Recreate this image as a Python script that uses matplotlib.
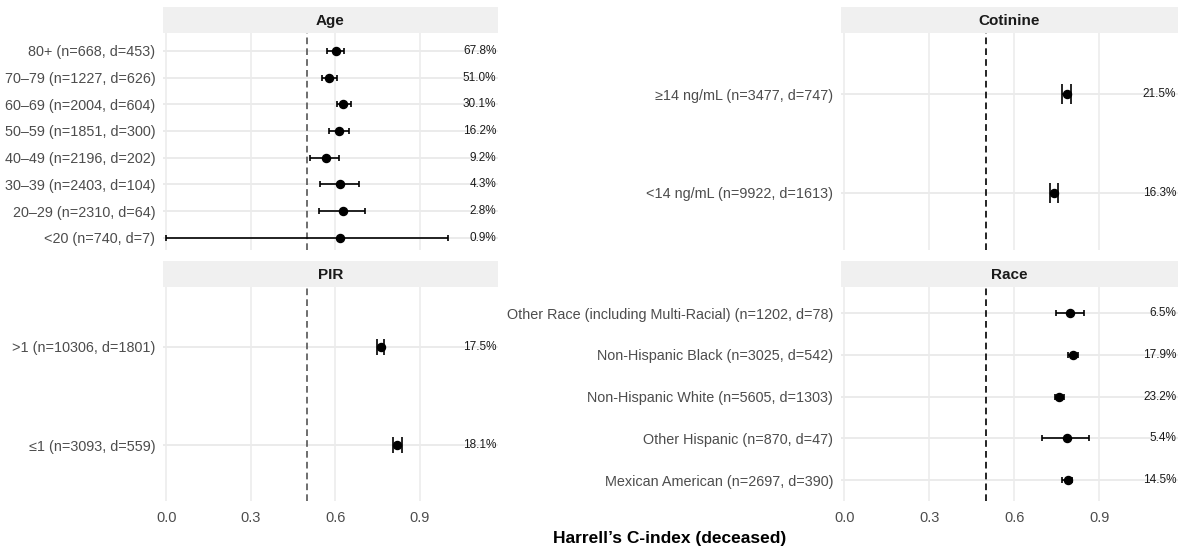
import matplotlib
matplotlib.use("Agg")
import matplotlib.pyplot as plt

plt.rcParams['font.family'] = ['Liberation Sans', 'DejaVu Sans']

# subgroup C-index estimates with 95% CI, listed bottom to top
age_groups = ["<20", "20–29", "30–39", "40–49", "50–59", "60–69", "70–79", "80+"]
age_n = [740, 2310, 2403, 2196, 1851, 2004, 1227, 668]
age_d = [7, 64, 104, 202, 300, 604, 626, 453]
age_c = [0.618, 0.626, 0.618, 0.566, 0.612, 0.629, 0.577, 0.602]
age_lo = [0.0, 0.542, 0.544, 0.511, 0.576, 0.605, 0.553, 0.571]
age_hi = [1.0, 0.704, 0.685, 0.614, 0.648, 0.656, 0.605, 0.631]

pir_groups = ["≤1", ">1"]
pir_n = [3093, 10306]
pir_d = [559, 1801]
pir_c = [0.819, 0.761]
pir_lo = [0.804, 0.749]
pir_hi = [0.836, 0.773]

cot_groups = ["<14 ng/mL", "≥14 ng/mL"]
cot_n = [9922, 3477]
cot_d = [1613, 747]
cot_c = [0.741, 0.785]
cot_lo = [0.727, 0.770]
cot_hi = [0.754, 0.800]

race_groups = ["Mexican American", "Other Hispanic", "Non-Hispanic White",
               "Non-Hispanic Black", "Other Race (including Multi-Racial)"]
race_n = [2697, 870, 5605, 3025, 1202]
race_d = [390, 47, 1303, 542, 78]
race_c = [0.788, 0.785, 0.759, 0.808, 0.797]
race_lo = [0.767, 0.699, 0.745, 0.790, 0.747]
race_hi = [0.804, 0.862, 0.774, 0.826, 0.845]

xticks = [0.0, 0.3, 0.6, 0.9]
W, H = 1179, 550

fig = plt.figure(figsize=(W / 100, H / 100), dpi=100)


def px_axes(x0, y0, x1, y1):
    # axes from pixel box (top-left origin)
    return fig.add_axes([x0 / W, 1 - y1 / H, (x1 - x0) / W, (y1 - y0) / H])


def panel(box, ylim, title, groups, n, d, c, lo, hi, cap, vcolor, show_x):
    x0, y0, x1, y1 = box
    ax = px_axes(x0, y0, x1, y1)
    # strip
    st = px_axes(x0, y0 - 26, x1, y0)
    st.set_facecolor("#F0F0F0")
    st.set_xticks([]); st.set_yticks([])
    for s in st.spines.values():
        s.set_visible(False)
    st.text(0.5, 0.45, title, ha="center", va="center", fontsize=11,
            fontweight="bold", color="#1A1A1A", transform=st.transAxes)

    ypos = list(range(len(groups)))
    ax.set_xlim(-0.012, 1.178)
    ax.set_ylim(*ylim)
    for s in ax.spines.values():
        s.set_visible(False)
    ax.set_axisbelow(True)
    for xv in xticks:
        ax.axvline(xv, color="#EBEBEB", lw=1.1, zorder=0)
    for yv in ypos:
        ax.axhline(yv, color="#EBEBEB", lw=1.4, zorder=0)
    ax.axvline(0.5, color=vcolor, lw=1.2, ls=(0, (4, 2.5)), zorder=1)

    xerr = [[ci - l for ci, l in zip(c, lo)], [h - ci for ci, h in zip(c, hi)]]
    ax.errorbar(c, ypos, xerr=xerr, fmt="o", color="black", ms=5.8,
                elinewidth=1.2, capsize=cap, capthick=1.2, zorder=3)
    for yv, ni, di in zip(ypos, n, d):
        ax.text(1.172, yv, f"{di / ni * 100:.1f}%", ha="right", va="center",
                fontsize=8.5, color="#1A1A1A", zorder=4)

    ax.set_yticks(ypos)
    ax.set_yticklabels([f"{g} (n={ni}, d={di})" for g, ni, di in zip(groups, n, d)],
                       fontsize=10.35, color="#4D4D4D")
    ax.tick_params(axis="y", length=0, pad=5.5)
    ax.set_xticks(xticks)
    if show_x:
        ax.set_xticklabels([f"{v:.1f}" for v in xticks], fontsize=10.5, color="#4D4D4D")
    else:
        ax.set_xticklabels([])
    ax.tick_params(axis="x", length=0, pad=7)
    return ax


panel((163, 33, 498, 250), (-0.46, 7.67), "Age", age_groups, age_n, age_d,
      age_c, age_lo, age_hi, 2.2, "#555555", False)
panel((163, 287, 498, 501), (-0.57, 1.61), "PIR", pir_groups, pir_n, pir_d,
      pir_c, pir_lo, pir_hi, 6.0, "#555555", True)
panel((841, 33, 1178, 250), (-0.58, 1.62), "Cotinine", cot_groups, cot_n, cot_d,
      cot_c, cot_lo, cot_hi, 7.5, "black", False)
panel((841, 287, 1178, 501), (-0.50, 4.63), "Race", race_groups, race_n, race_d,
      race_c, race_lo, race_hi, 2.5, "black", True)

fig.text(670 / W, 1 - 538 / H, "Harrell’s C-index (deceased)", ha="center", va="center",
         fontsize=12.5, fontweight="bold", color="black")

fig.savefig("out.png", dpi=100, facecolor="white")
